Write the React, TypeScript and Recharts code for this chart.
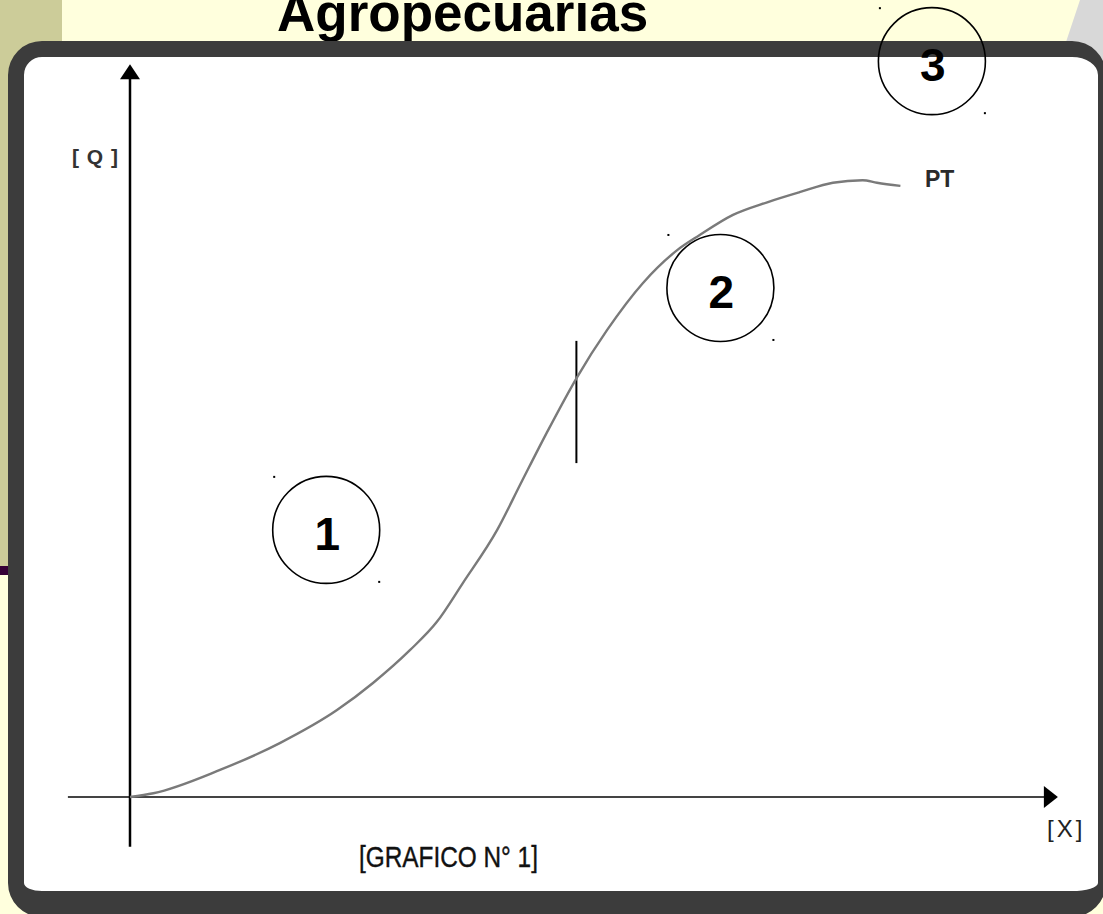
import React from "react";
import { ComposedChart, Line, XAxis, YAxis, ReferenceLine, ReferenceDot } from "recharts";

// total product curve (input X vs output Q)
const xInput = [0, 2.6, 10, 16.7, 23, 27, 31.1, 34.1, 37, 40.8, 43.5, 46.3, 49.7, 53, 57, 60.8, 63.3, 67, 70.8, 74.4, 78.1, 81.4, 83, 85.6];
const qOutput = [0, 0.6, 4.3, 8.6, 13.8, 18.1, 23.3, 27.8, 34, 42.4, 50, 57.8, 66.7, 74.1, 81.6, 86.8, 89.2, 92.4, 94.4, 96, 97.5, 97.9, 97.5, 97];

// numbered stage markers
const zoneNames = ["1", "2", "3"];
const zoneX = [21.8, 65.6, 89.1];
const zoneY = [42.4, 80.8, 116.8];

// inflection tick
const inflectionX = 49.6;
const inflectionQ = [53, 72.4];

// axis extents (arrow tips)
const xAxisRange = [-6.9, 103.1];
const yAxisRange = [-7.9, 116.3];

const W = 1103;
const H = 914;
const X_DOMAIN: [number, number] = [-14.444, 108.111];
const Y_DOMAIN: [number, number] = [-18.571, 126.508];

const FONT = "'Liberation Sans', Arial, sans-serif";

const data = xInput.map((x, i) => ({ x, q: qOutput[i] }));

function TextAt({ x, baseline, size, children, style }: any) {
  return (
    <div
      style={{
        position: "absolute",
        left: x,
        top: baseline - 0.8465 * size,
        fontSize: size,
        lineHeight: 1,
        fontFamily: FONT,
        whiteSpace: "nowrap",
        ...style,
      }}
    >
      {children}
    </div>
  );
}

const arrowRight = (p: any) => (
  <path d={`M${p.cx},${p.cy} L${p.cx - 14},${p.cy - 11} L${p.cx - 14},${p.cy + 11} Z`} fill="#000" />
);
const arrowUp = (p: any) => (
  <path d={`M${p.cx},${p.cy} L${p.cx - 10},${p.cy + 15} L${p.cx + 10},${p.cy + 15} Z`} fill="#000" />
);

const zoneShape = (name: string) => (p: any) => (
  <g>
    <circle cx={p.cx} cy={p.cy} r={53.5} fill="none" stroke="#000" strokeWidth={1.6} />
    <rect x={p.cx - 53} y={p.cy - 54} width={2} height={2} fill="#000" />
    <rect x={p.cx + 52} y={p.cy + 51} width={2} height={2} fill="#000" />
    <text x={p.cx + 1} y={p.cy + 20} textAnchor="middle" fontFamily={FONT} fontWeight="bold" fontSize={46} fill="#000">
      {name}
    </text>
  </g>
);

export default function App() {
  return (
    <div style={{ position: "absolute", left: 0, top: 0, width: W, height: H, overflow: "hidden", background: "#FFFFDD" }}>
      {/* slide background */}
      <div style={{ position: "absolute", left: 0, top: 0, width: 62, height: 566, background: "#CCCC99" }} />
      <div style={{ position: "absolute", left: 0, top: 566, width: 62, height: 9, background: "#350036" }} />
      <div
        style={{
          position: "absolute",
          left: 0,
          top: 0,
          width: W,
          height: 300,
          background: "#D8D8D8",
          clipPath: "polygon(1080px 0, 1103px 0, 1103px 300px, 980px 300px)",
        }}
      />
      <TextAt x={277} baseline={31} size={53} style={{ fontWeight: "bold", color: "#000" }}>
        Agropecuarias
      </TextAt>
      {/* picture frame */}
      <div
        style={{
          position: "absolute",
          left: 8,
          top: 41,
          width: 1098,
          height: 876,
          boxSizing: "border-box",
          borderStyle: "solid",
          borderColor: "#3c3c3c",
          borderWidth: "16px 8px 26px 16px",
          borderRadius: 34,
          background: "#fff",
        }}
      />
      <TextAt x={72} baseline={164} size={21} style={{ fontWeight: "bold", color: "#333", letterSpacing: 1 }}>
        [ Q ]
      </TextAt>
      <TextAt x={925} baseline={187} size={23} style={{ fontWeight: "bold", color: "#2a2a2a" }}>
        PT
      </TextAt>
      <TextAt x={1047} baseline={837} size={24} style={{ color: "#222", letterSpacing: 3 }}>
        [X]
      </TextAt>
      <TextAt
        x={359}
        baseline={868}
        size={29}
        style={{ color: "#111", transform: "scaleX(0.84)", transformOrigin: "left center", WebkitTextStroke: "0.4px #111" }}
      >
        [GRAFICO N° 1]
      </TextAt>
      <div style={{ position: "absolute", left: 0, top: 0 }}>
        <ComposedChart width={W} height={H} data={data} margin={{ top: 0, right: 0, bottom: 0, left: 0 }}>
          <XAxis dataKey="x" type="number" domain={X_DOMAIN} allowDataOverflow hide />
          <YAxis type="number" domain={Y_DOMAIN} allowDataOverflow hide />
          <ReferenceLine
            segment={[{ x: xAxisRange[0], y: 0 }, { x: xAxisRange[1] - 1, y: 0 }]}
            stroke="#444"
            strokeWidth={2}
            ifOverflow="visible"
          />
          <ReferenceLine
            segment={[{ x: 0, y: yAxisRange[0] }, { x: 0, y: yAxisRange[1] - 1 }]}
            stroke="#000"
            strokeWidth={2.5}
            ifOverflow="visible"
          />
          <ReferenceDot x={xAxisRange[1]} y={0} r={1} shape={arrowRight} ifOverflow="visible" />
          <ReferenceDot x={0} y={yAxisRange[1]} r={1} shape={arrowUp} ifOverflow="visible" />
          <ReferenceLine
            segment={[{ x: inflectionX, y: inflectionQ[0] }, { x: inflectionX, y: inflectionQ[1] }]}
            stroke="#000"
            strokeWidth={2}
            ifOverflow="visible"
          />
          <Line
            dataKey="q"
            type="monotone"
            stroke="#7a7a7a"
            strokeWidth={2.4}
            dot={false}
            activeDot={false}
            isAnimationActive={false}
          />
          {zoneNames.map((name, i) => (
            <ReferenceDot
              key={name}
              x={zoneX[i]}
              y={zoneY[i]}
              r={53.5}
              shape={zoneShape(name)}
              ifOverflow="visible"
            />
          ))}
        </ComposedChart>
      </div>
    </div>
  );
}
